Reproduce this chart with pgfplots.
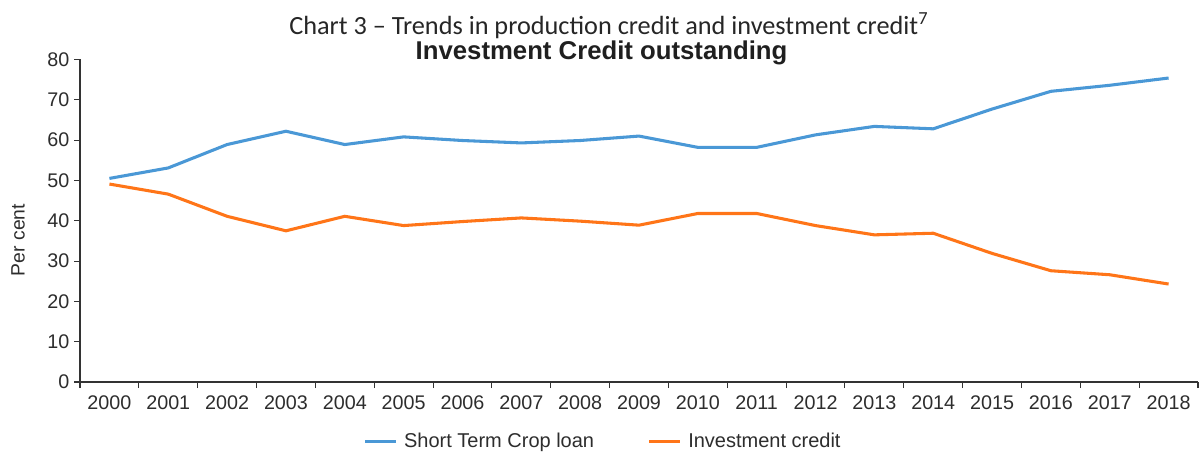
\documentclass[border=0pt]{standalone}
\usepackage{fontspec}
\setmainfont{Liberation Sans}
\newfontfamily\carlito{Carlito}
\usepackage{pgfplots}
\pgfplotsset{compat=1.18}
\definecolor{cblue}{RGB}{74,152,214}
\definecolor{corange}{RGB}{255,117,24}
\definecolor{axgray}{RGB}{51,51,51}
\definecolor{txtgray}{RGB}{45,45,45}
\begin{document}
\begin{tikzpicture}[x=1bp,y=1bp]
\useasboundingbox (0,0) rectangle (900.75,339);
\begin{axis}[
  at={(60bp,52.5bp)}, anchor=south west,
  scale only axis, width=838.5bp, height=241.9bp,
  xmin=-0.5, xmax=18.5, ymin=0, ymax=80,
  axis x line=bottom, axis y line=left,
  axis line style={-, axgray, line width=0.9pt},
  xtick={0,...,18},
  xticklabels={2000,2001,2002,2003,2004,2005,2006,2007,2008,2009,2010,2011,2012,2013,2014,2015,2016,2017,2018},
  major x tick style={draw=none},
  minor xtick={-0.5,0.5,...,18.5},
  minor x tick style={axgray, line width=0.8pt},
  ytick={0,10,...,80},
  major y tick style={axgray, line width=0.8pt},
  tick align=outside,
  major tick length=4.5bp, minor tick length=4.5bp,
  /pgf/number format/assume math mode=true,
  ticklabel style={font=\fontsize{14.8bp}{16bp}\selectfont, text=txtgray},
  xticklabel style={yshift=-2.5bp},
  yticklabel style={xshift=0bp},
  clip=false,
  legend columns=2,
  legend style={draw=none, fill=none, at={(axis description cs:0.468,-0.185)}, anchor=center,
    font=\fontsize{15bp}{16bp}\selectfont, text=txtgray,
    /tikz/every even column/.append style={column sep=38bp}},
  legend image code/.code={\draw[#1, line width=2.6bp] (0bp,0bp) -- (23bp,0bp);},
  legend style={/tikz/every odd column/.append style={column sep=3bp}},
]
\addplot[cblue, line width=2.3bp] coordinates {
(0,50.5) (1,53.1) (2,58.9) (3,62.2) (4,58.9) (5,60.8) (6,59.9) (7,59.3) (8,59.9) (9,61.0)
(10,58.2) (11,58.2) (12,61.3) (13,63.4) (14,62.8) (15,67.7) (16,72.1) (17,73.6) (18,75.4)};
\addlegendentry{Short Term Crop loan}
\addplot[corange, line width=2.3bp] coordinates {
(0,49.1) (1,46.6) (2,41.1) (3,37.5) (4,41.1) (5,38.8) (6,39.8) (7,40.7) (8,39.9) (9,38.9)
(10,41.8) (11,41.8) (12,38.8) (13,36.5) (14,36.9) (15,31.9) (16,27.6) (17,26.6) (18,24.3)};
\addlegendentry{Investment credit}
\node[anchor=base, inner sep=0pt, font=\carlito\fontsize{19.7bp}{21bp}\selectfont, text=black!85]
  at (axis description cs:0.473,1.078) {Chart 3 – Trends in production credit and investment credit\textsuperscript{7}};
\node[anchor=base, inner sep=0pt, font=\bfseries\fontsize{19.3bp}{21bp}\selectfont, text=black!88]
  at (axis description cs:0.4665,1.0005) {Investment Credit outstanding};
\node[rotate=90, anchor=center, font=\fontsize{14.5bp}{16bp}\selectfont, text=txtgray]
  at (axis description cs:-0.0555,0.44) {Per cent};
\end{axis}
\end{tikzpicture}
\end{document}
